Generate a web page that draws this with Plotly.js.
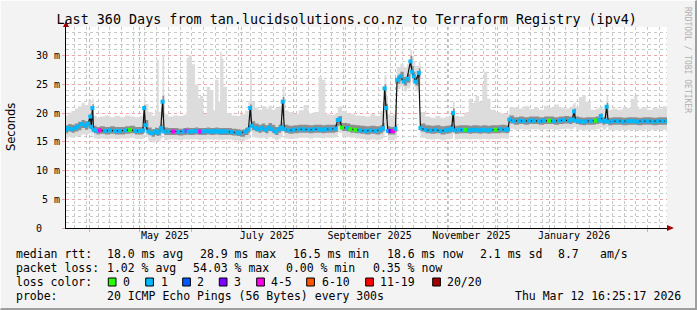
<!DOCTYPE html>
<html><head><meta charset="utf-8">
<script src="https://cdn.plot.ly/plotly-3.0.1.min.js"></script>
<style>
html,body{margin:0;padding:0;background:#f3f3f3;}
#wrap{position:relative;width:697px;height:310px;overflow:hidden;}
#chart{width:697px;height:310px;}
#frame{position:absolute;left:0;top:0;width:697px;height:310px;box-sizing:border-box;border-right:2px solid #9f9f9f;border-bottom:2px solid #9f9f9f;border-left:1px solid #fcfcfc;border-top:1px solid #fcfcfc;pointer-events:none;}
</style>
</head><body>
<div id="wrap"><div id="chart"></div><div id="frame"></div></div>
<script>
// ---- data (milliseconds) ----
const dates = [
 '2025-03-17 18:00','2025-03-19','2025-03-21','2025-03-23','2025-03-25','2025-03-27','2025-03-29','2025-03-31','2025-04-01 06:00','2025-04-01 20:00','2025-04-02 12:00','2025-04-03 06:00',
 '2025-04-05','2025-04-07','2025-04-10','2025-04-13','2025-04-16','2025-04-19','2025-04-22','2025-04-25','2025-04-28','2025-05-01','2025-05-02 18:00','2025-05-03 12:00','2025-05-04 06:00','2025-05-06','2025-05-08','2025-05-10','2025-05-11','2025-05-12 06:00','2025-05-13 12:00','2025-05-14 12:00','2025-05-15 12:00',
 '2025-05-18','2025-05-21','2025-05-24','2025-05-27','2025-05-29','2025-05-30','2025-06-01','2025-06-03','2025-06-05','2025-06-06','2025-06-08','2025-06-10','2025-06-12','2025-06-14','2025-06-15','2025-06-17','2025-06-18','2025-06-19','2025-06-20','2025-06-22','2025-06-25','2025-06-28','2025-06-30','2025-07-03','2025-07-05','2025-07-06','2025-07-07','2025-07-09','2025-07-11','2025-07-13','2025-07-15','2025-07-17','2025-07-19','2025-07-21','2025-07-23','2025-07-24 12:00','2025-07-25 12:00','2025-07-26 12:00',
 '2025-07-29','2025-08-01','2025-08-04','2025-08-07','2025-08-10','2025-08-13','2025-08-16','2025-08-18','2025-08-20','2025-08-23','2025-08-26','2025-08-27 12:00','2025-08-28 12:00','2025-08-30','2025-09-02','2025-09-04','2025-09-07','2025-09-10','2025-09-13','2025-09-16','2025-09-19','2025-09-22','2025-09-23 12:00','2025-09-24 12:00','2025-09-25 12:00','2025-09-26 12:00','2025-09-28','2025-09-29 12:00','2025-10-01','2025-10-02','2025-10-04','2025-10-06','2025-10-08','2025-10-10','2025-10-11','2025-10-12','2025-10-13','2025-10-15','2025-10-16',
 '2025-10-19','2025-10-22','2025-10-25','2025-10-28','2025-10-31','2025-11-02','2025-11-03 18:00','2025-11-04 12:00','2025-11-05 12:00','2025-11-08','2025-11-11','2025-11-12','2025-11-14','2025-11-16','2025-11-18','2025-11-20','2025-11-22','2025-11-23','2025-11-25','2025-11-27','2025-11-30','2025-12-03','2025-12-06','2025-12-07 12:00','2025-12-08 06:00',
 '2025-12-11','2025-12-14','2025-12-17','2025-12-20','2025-12-23','2025-12-26','2025-12-29','2026-01-01','2026-01-04','2026-01-07','2026-01-10','2026-01-13','2026-01-15','2026-01-16','2026-01-17','2026-01-19','2026-01-21','2026-01-23','2026-01-26','2026-01-29','2026-01-31','2026-02-01','2026-02-02','2026-02-03 12:00','2026-02-04 12:00','2026-02-05 12:00','2026-02-08','2026-02-11','2026-02-14','2026-02-17','2026-02-19','2026-02-21','2026-02-23','2026-02-26','2026-03-01','2026-03-04','2026-03-07','2026-03-10','2026-03-12 16:00'
];
const medianRtt = [
 17.1,17.4,17.2,17.4,17.7,18.1,17.8,18.2,19.4,17.6,20.9,17.1,
 16.9,17.0,16.9,17.0,16.9,16.9,17.0,17.1,16.9,16.9,17.0,20.9,17.9,16.8,16.5,16.8,16.6,16.7,17.4,22.0,16.8,
 16.8,16.8,16.7,16.8,16.9,16.8,16.8,16.9,16.8,16.8,16.8,16.9,16.8,16.8,16.9,16.8,16.8,16.8,16.8,16.8,16.7,16.6,16.5,16.8,17.2,20.9,17.8,17.4,17.2,17.4,17.1,17.5,17.2,16.8,17.2,17.5,22.0,17.2,
 17.0,17.1,17.2,17.2,17.1,17.2,17.2,17.1,17.2,17.2,17.3,18.8,18.9,17.5,17.4,17.2,17.1,17.0,16.9,17.0,16.9,17.1,17.4,24.3,20.9,16.9,16.9,16.9,17.3,25.8,26.4,25.5,26.0,29.0,27.2,26.4,25.5,27.0,17.4,
 17.1,17.0,17.1,16.9,17.0,17.1,17.3,20.0,17.0,17.1,17.1,17.1,17.0,17.1,17.1,17.0,17.1,17.1,17.0,17.1,17.1,17.2,17.1,17.2,18.9,
 18.6,18.7,18.6,18.7,18.7,18.6,18.7,18.7,18.6,18.7,18.8,18.7,18.9,20.3,18.7,18.6,18.5,18.6,18.6,18.7,18.8,19.5,18.6,18.7,21.1,18.5,18.6,18.6,18.5,18.6,18.6,18.6,18.5,18.6,18.6,18.5,18.6,18.6,18.6
];
const smokeMin = [
 15.6,15.8,15.7,15.9,16.0,16.3,16.2,16.4,16.6,16.0,16.6,15.6,
 15.5,15.6,15.5,15.6,15.5,15.6,15.6,15.7,15.5,15.5,15.6,16.5,15.9,15.2,14.9,15.2,15.1,15.2,15.6,16.8,15.3,
 15.4,15.4,15.3,15.4,15.4,15.4,15.4,15.4,15.3,15.3,15.4,15.4,15.4,15.3,15.4,15.3,15.4,15.3,15.4,15.4,15.3,15.2,15.1,15.4,15.6,16.8,15.8,15.7,15.6,15.7,15.5,15.8,15.6,15.3,15.6,15.8,17.0,15.6,
 15.5,15.6,15.7,15.7,15.6,15.7,15.7,15.6,15.7,15.7,15.8,16.6,16.6,15.9,15.8,15.7,15.6,15.5,15.3,15.4,15.3,15.5,15.7,17.5,16.8,15.3,15.3,15.3,15.6,24.2,24.6,23.8,24.3,26.5,25.2,24.6,23.8,25.0,15.7,
 15.5,15.4,15.5,15.3,15.4,15.5,15.6,16.4,15.4,15.5,15.5,15.5,15.4,15.5,15.5,15.4,15.5,15.5,15.4,15.5,15.5,15.6,15.5,15.6,17.3,
 17.1,17.2,17.1,17.2,17.2,17.1,17.2,17.2,17.1,17.2,17.3,17.2,17.3,17.6,17.2,17.1,17.0,17.1,17.1,17.2,17.3,17.5,17.1,17.2,17.6,17.0,17.1,17.1,17.0,17.1,17.1,17.1,17.0,17.1,17.1,17.0,17.1,17.1,17.1
];
const smokeLow = [
 16.5,16.8,16.6,16.8,17.0,17.4,17.1,17.5,18.2,17.0,18.6,16.5,
 16.3,16.4,16.3,16.4,16.3,16.3,16.4,16.5,16.3,16.3,16.4,18.0,17.0,16.2,15.9,16.2,16.0,16.1,16.6,19.2,16.2,
 16.2,16.2,16.1,16.2,16.3,16.2,16.2,16.3,16.2,16.2,16.2,16.3,16.2,16.2,16.3,16.2,16.2,16.2,16.2,16.2,16.1,16.0,15.9,16.2,16.6,18.6,17.0,16.8,16.6,16.8,16.5,16.9,16.6,16.2,16.6,16.9,19.5,16.6,
 16.4,16.5,16.6,16.6,16.5,16.6,16.6,16.5,16.6,16.6,16.7,17.8,17.8,16.9,16.8,16.6,16.5,16.4,16.3,16.4,16.3,16.5,16.8,21.0,19.0,16.3,16.3,16.3,16.7,25.1,25.6,24.8,25.3,27.8,26.4,25.6,24.8,26.2,16.8,
 16.5,16.4,16.5,16.3,16.4,16.5,16.7,18.5,16.4,16.5,16.5,16.5,16.4,16.5,16.5,16.4,16.5,16.5,16.4,16.5,16.5,16.6,16.5,16.6,18.2,
 18.0,18.1,18.0,18.1,18.1,18.0,18.1,18.1,18.0,18.1,18.2,18.1,18.3,19.0,18.1,18.0,17.9,18.0,18.0,18.1,18.2,18.6,18.0,18.1,19.5,17.9,18.0,18.0,17.9,18.0,18.0,18.0,17.9,18.0,18.0,17.9,18.0,18.0,18.0
];
const smokeHigh = [
 17.9,18.1,18.0,18.2,18.5,18.8,18.6,19.0,20.0,18.6,21.6,17.8,
 17.6,17.7,17.6,17.7,17.6,17.6,17.7,17.8,17.6,17.6,17.8,21.4,18.8,17.5,17.2,17.5,17.4,17.4,18.2,23.0,17.5,
 17.4,17.4,17.3,17.4,17.5,17.4,17.4,17.5,17.4,17.4,17.4,17.5,17.4,17.4,17.5,17.4,17.4,17.4,17.4,17.4,17.3,17.2,17.1,17.4,17.9,21.5,18.6,18.2,18.0,18.2,17.9,18.3,18.0,17.6,18.0,18.4,22.8,18.0,
 17.8,17.9,18.0,18.0,17.9,18.0,18.0,17.9,18.0,18.0,18.1,19.4,19.5,18.3,18.2,18.0,17.9,17.8,17.7,17.8,17.7,17.9,18.3,25.0,21.6,17.7,17.6,17.6,18.0,26.5,27.2,26.3,26.8,30.0,28.2,27.2,26.3,27.8,18.2,
 17.9,17.8,17.9,17.7,17.8,17.9,18.1,20.8,17.8,17.9,17.9,17.9,17.8,17.9,17.9,17.8,17.9,17.9,17.8,17.9,17.9,18.0,17.9,18.0,19.6,
 19.3,19.4,19.3,19.4,19.4,19.3,19.4,19.4,19.3,19.4,19.5,19.4,19.6,20.8,19.4,19.3,19.2,19.3,19.3,19.4,19.5,20.0,19.3,19.5,21.8,19.2,19.3,19.3,19.2,19.3,19.3,19.3,19.2,19.3,19.3,19.2,19.3,19.3,19.3
];
const smokeMax = [
 19.6,20.1,20.4,20.8,21.2,21.8,21.4,22.2,22.4,21.0,22.6,19.6,
 19.2,19.4,19.6,19.3,19.5,19.3,19.6,19.4,19.3,19.5,20.0,22.9,21.6,20.2,19.6,20.6,29.3,20.2,21.0,30.1,19.8,
 19.4,19.6,19.5,19.7,29.6,30.1,28.5,25.0,22.6,23.0,19.8,24.6,24.0,20.5,25.8,22.0,30.7,29.5,24.6,20.0,19.6,19.5,19.8,20.4,22.0,27.2,22.0,21.0,20.6,21.2,20.8,21.3,20.6,20.9,21.2,22.0,24.6,20.5,
 20.2,19.9,20.5,21.4,20.0,20.2,26.4,25.8,19.8,19.7,20.0,21.0,21.2,20.4,20.0,19.8,19.6,19.5,19.4,19.8,19.5,20.4,22.0,26.6,23.0,19.8,19.6,19.8,20.5,28.0,28.6,28.0,28.5,31.0,30.0,29.0,28.2,29.0,20.2,
 19.4,19.2,19.5,19.2,19.4,19.6,20.5,22.0,19.5,19.4,19.8,20.2,22.5,21.8,23.0,22.0,24.9,27.2,22.5,20.6,20.2,20.0,19.8,19.9,21.0,
 21.0,20.8,21.2,20.7,21.0,20.6,21.3,21.0,21.5,21.0,20.8,21.0,21.5,21.8,21.0,22.8,23.1,22.0,20.6,20.8,21.0,21.2,20.8,21.0,23.0,20.6,20.8,20.6,21.0,20.9,22.5,23.0,20.8,21.0,20.6,20.9,20.8,21.2,20.6
];
const lostPings = [
 1,1,1,1,1,1,1,1,1,1,1,1,
 1,4,1,1,1,1,1,0,1,1,1,1,1,1,1,1,1,1,1,1,1,
 1,4,1,1,4,1,1,1,1,4,1,1,1,1,1,1,1,1,1,1,1,1,1,1,1,1,1,1,1,1,1,1,1,1,1,1,1,1,
 1,1,1,1,1,1,1,1,1,1,1,1,1,0,1,0,0,1,1,1,1,1,1,1,1,1,3,4,1,1,1,1,1,1,1,1,1,1,1,
 1,1,1,1,1,1,1,1,1,1,1,0,1,1,1,1,1,1,1,1,0,1,1,1,1,
 1,1,1,1,1,1,1,0,1,1,1,1,1,1,1,1,1,1,1,0,1,1,1,1,1,1,1,1,1,1,1,1,1,1,1,1,1,1,1
];
const lossBins = ['0','1','2','3','4-5','6-10','11-19','20/20'];
const lossBinMax = [0,1,2,3,5,10,19,20];
const lossBinColors = ['#26ff00','#00b8ff','#0059ff','#7e00ff','#ff00ea','#ff5500','#ff0000','#a10000'];
const yTickVals = [0,5,10,15,20,25,30];
const yTickText = ['0\u00a0\u00a0\u00a0','5 m','10 m','15 m','20 m','25 m','30 m'];
const xLabelDates = ['2025-05-16','2025-07-16','2025-09-15 12:00','2025-11-15 12:00','2026-01-16'];
const xLabelText = ['May 2025','July 2025','September 2025','November 2025','January 2026'];
const rttStats = ['18.0 ms avg','28.9 ms max','16.5 ms min','18.6 ms now','2.1 ms sd','8.7','am/s'];
const lossStats = ['1.02 % avg','54.03 % max','0.00 % min','0.35 % now'];
const probeText = '20 ICMP Echo Pings (56 Bytes) every 300s';
const stampText = 'Thu Mar 12 16:25:17 2026';
const titleText = 'Last 360 Days from tan.lucidsolutions.co.nz to Terraform Registry (ipv4)';
const xStart = '2025-03-17 16:25:17', xEnd = '2026-03-12 16:25:17';

// ---- layout helpers (pixel -> paper) ----
const L = 66, T = 27, W = 601, H = 201;
const PX = p => (p - L) / W;
const PY = p => (T + H - p) / H;
const MONO = 'DejaVu Sans Mono';

const lossColor = n => lossBinColors[lossBinMax.findIndex(m => n <= m)];

const none = 'rgba(0,0,0,0)';
const traces = [
  {x: dates, y: smokeMin, mode: 'lines', line: {width: 0, color: none, shape: 'hv'}, hoverinfo: 'skip'},
  {x: dates, y: smokeMax, mode: 'lines', line: {width: 0, color: none, shape: 'hv'}, fill: 'tonexty', fillcolor: '#dcdcdc', hoverinfo: 'skip'},
  {x: dates, y: smokeLow, mode: 'lines', line: {width: 0, color: none, shape: 'hv'}, hoverinfo: 'skip'},
  {x: dates, y: smokeHigh, mode: 'lines', line: {width: 0, color: none, shape: 'hv'}, fill: 'tonexty', fillcolor: '#8e8e8e', hoverinfo: 'skip'},
  {x: dates, y: medianRtt, xaxis: 'x2', mode: 'lines', line: {width: 1.2, color: '#111'}, hoverinfo: 'skip'},
  {x: dates, y: medianRtt, xaxis: 'x3', mode: 'markers', marker: {symbol: 'square', size: 4, color: lostPings.map(lossColor), line: {width: 0}}, hoverinfo: 'skip'}
];

const ann = [];
const txt = (text, px, py, anchor, extra) => ann.push(Object.assign({text, x: PX(px), y: PY(py), xref: 'paper', yref: 'paper', xanchor: anchor || 'left', yanchor: 'middle', showarrow: false, font: {family: MONO, size: 11.5, color: '#000'}, borderpad: 0, borderwidth: 0}, extra || {}));

txt('median rtt:', 16, 254);
[107.3, 200, 293.3, 386.7, 480, 557.8, 600].forEach((p, i) => txt(rttStats[i], p, 254));
txt('packet loss:', 16, 268);
[107.3, 193.3, 286, 372.7].forEach((p, i) => txt(lossStats[i], p, 268));
txt('loss color:', 16, 282);
const boxX = [108.3, 145.7, 182.7, 219.3, 256.7, 306.7, 365.7, 432.7];
const labX = [123.3, 160.7, 197.3, 234.3, 271, 321.7, 380, 446.7];
const shapes = [];
lossBins.forEach((b, i) => {
  shapes.push({type: 'rect', xref: 'paper', yref: 'paper', x0: PX(boxX[i]), x1: PX(boxX[i] + 7.7), y0: PY(278), y1: PY(286), fillcolor: lossBinColors[i], line: {color: '#000', width: 1}});
  txt(b, labX[i], 282);
});
txt('probe:', 16, 296);
txt(probeText, 107.3, 296);
txt(stampText, 681, 296, 'right');
// y axis title
ann.push({text: 'Seconds', x: PX(11), y: PY(127), xref: 'paper', yref: 'paper', textangle: -90, showarrow: false, xanchor: 'center', yanchor: 'middle', font: {family: 'DejaVu Sans', size: 11.5, color: '#000'}});
// watermark
ann.push({text: 'RRDTOOL / TOBI OETIKER', x: PX(688), y: PY(60), xref: 'paper', yref: 'paper', textangle: 90, showarrow: false, xanchor: 'center', yanchor: 'middle', font: {family: MONO, size: 8, color: '#b0b0b0'}});

// axis arrows
shapes.push({type: 'path', xref: 'paper', yref: 'paper', path: `M ${PX(66)} ${PY(21)} L ${PX(63)} ${PY(27)} L ${PX(69)} ${PY(27)} Z`, fillcolor: '#a10000', line: {width: 0}});
shapes.push({type: 'path', xref: 'paper', yref: 'paper', path: `M ${PX(674)} ${PY(228)} L ${PX(667)} ${PY(225)} L ${PX(667)} ${PY(231)} Z`, fillcolor: '#a10000', line: {width: 0}});

const red = '#f3a3a3', grey = '#c8c8c8';
const layout = {
  width: 697, height: 310,
  margin: {l: L, r: 697 - L - W, t: T, b: 310 - T - H, pad: 0},
  paper_bgcolor: '#f3f3f3', plot_bgcolor: '#ffffff',
  showlegend: false,
  title: {text: titleText, font: {family: MONO, size: 13.4, color: '#000'}, x: 346.7 / 697, xref: 'container', xanchor: 'center', y: 1 - 19 / 310, yref: 'container', yanchor: 'middle'},
  xaxis: {type: 'date', range: [xStart, xEnd], tick0: '2025-04-01', dtick: 'M1', showticklabels: false,
    showgrid: true, gridcolor: red, griddash: 'dot', gridwidth: 1, ticks: 'outside', ticklen: 3, tickcolor: red,
    showline: true, linecolor: '#000', linewidth: 1, zeroline: false},
  xaxis2: {type: 'date', range: [xStart, xEnd], overlaying: 'x', anchor: 'y', side: 'bottom', tickmode: 'array', tickvals: xLabelDates, ticktext: xLabelText,
    showgrid: false, ticks: '', showline: false, zeroline: false, tickfont: {family: MONO, size: 10, color: '#000'}},
  xaxis3: {type: 'date', range: [xStart, xEnd], overlaying: 'x', anchor: 'y', side: 'bottom', tick0: '2025-03-23', dtick: 7 * 86400000,
    showticklabels: false, showgrid: true, gridcolor: grey, griddash: 'dot', gridwidth: 1, ticks: '', showline: false, zeroline: false},
  yaxis: {range: [0, 35], tickmode: 'array', tickvals: yTickVals, ticktext: yTickText, tickfont: {family: MONO, size: 10, color: '#000'},
    showgrid: true, gridcolor: red, griddash: 'dot', gridwidth: 1, ticks: 'outside', ticklen: 3, tickcolor: red,
    showline: true, linecolor: '#000', linewidth: 1, zeroline: false,
    minor: {dtick: 1, tick0: 0, showgrid: true, gridcolor: grey, griddash: 'dot', gridwidth: 1, ticks: ''}},
  annotations: ann, shapes: shapes
};
Plotly.newPlot('chart', traces, layout, {staticPlot: true, displayModeBar: false});
</script>
</body></html>
